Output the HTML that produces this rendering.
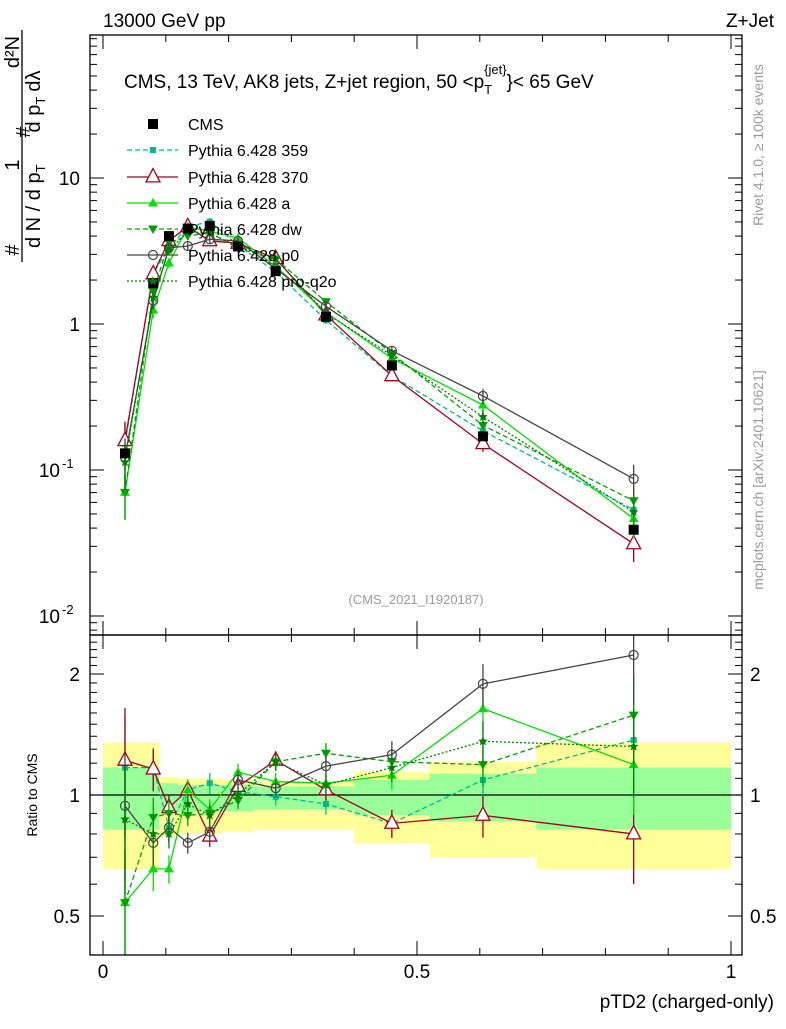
<!DOCTYPE html>
<html><head><meta charset="utf-8"><style>
body{margin:0;background:#fff;}
svg text{font-family:"Liberation Sans",sans-serif;}
</style></head><body>
<svg id="c" width="786" height="1024" viewBox="0 0 786 1024" xmlns="http://www.w3.org/2000/svg"></svg>
<script>
const xCenters=[0.035,0.08,0.105,0.135,0.17,0.215,0.275,0.355,0.46,0.605,0.845];
const binEdges=[0,0.07,0.09,0.12,0.15,0.19,0.24,0.31,0.40,0.52,0.69,1.0];
const cmsValues=[0.13,1.9,4.0,4.5,4.7,3.4,2.3,1.12,0.52,0.17,0.039];
const yellowUp=[1.35,1.35,1.11,1.10,1.10,1.09,1.08,1.08,1.14,1.21,1.35];
const yellowDn=[0.655,0.655,0.79,0.80,0.80,0.81,0.82,0.82,0.76,0.70,0.655];
const greenUp=[1.17,1.17,1.07,1.06,1.06,1.06,1.05,1.05,1.09,1.13,1.17];
const greenDn=[0.82,0.82,0.91,0.91,0.91,0.91,0.92,0.92,0.89,0.86,0.82];
const r359=[1.17,1.17,0.83,1.03,1.07,1.02,0.99,0.95,0.85,1.09,1.37];
const r370=[1.22,1.16,0.93,1.03,0.79,1.05,1.22,1.03,0.85,0.89,0.80];
const rA=[0.54,0.655,0.655,1.03,0.92,1.14,1.08,1.07,1.12,1.64,1.19];
const rDw=[0.54,0.88,0.90,0.89,0.90,0.97,1.21,1.27,1.21,1.19,1.58];
const rP0=[0.94,0.76,0.83,0.76,0.81,1.09,1.04,1.18,1.26,1.89,2.23];
const rQ2o=[0.87,0.80,0.80,0.95,0.89,1.0,1.21,1.06,1.17,1.36,1.32];
const mcErr=[0.35,0.12,0.08,0.06,0.06,0.05,0.05,0.06,0.08,0.12,0.25];
const xTicks=[0,0.5,1];
const xTickLabels=["0","0.5","1"];

const NS="http://www.w3.org/2000/svg";
const svg=document.getElementById('c');
function el(t,a,parent){const e=document.createElementNS(NS,t);for(const k in a)e.setAttribute(k,a[k]);(parent||svg).appendChild(e);return e;}
const L=90,R=742,T=35,MB=635,RB=955;
const X=v=>103+628*v;
const Y=v=>324-146*Math.log10(v);
const YR=v=>795-121*Math.log2(v);

for(let i=0;i<xCenters.length;i++){
  const x0=X(binEdges[i]),x1=X(binEdges[i+1]);
  let b=el('rect',{x:x0,y:YR(yellowUp[i]),width:x1-x0,height:YR(yellowDn[i])-YR(yellowUp[i]),fill:'#ffff99'});
  
  
  b=el('rect',{x:x0,y:YR(greenUp[i]),width:x1-x0,height:YR(greenDn[i])-YR(greenUp[i]),fill:'#99ff99'});
  
  
}
el('line',{x1:L,x2:R,y1:YR(1),y2:YR(1),stroke:'#000','stroke-width':1.3});

function marker(g,type,x,y,col,s){
  if(type==='sq') el('rect',{x:x-s,y:y-s,width:2*s,height:2*s,fill:col},g);
  else if(type==='tri'){el('polygon',{points:`${x},${y-s*1.2} ${x-s},${y+s*0.7} ${x+s},${y+s*0.7}`,fill:'#fff',stroke:col,'stroke-width':1.3},g);}
  else if(type==='ftri'){el('polygon',{points:`${x},${y-s} ${x-s},${y+s*0.7} ${x+s},${y+s*0.7}`,fill:col},g);}
  else if(type==='dtri'){el('polygon',{points:`${x},${y+s} ${x-s},${y-s*0.7} ${x+s},${y-s*0.7}`,fill:col},g);}
  else if(type==='circ'){el('circle',{cx:x,cy:y,r:s,fill:'none',stroke:col,'stroke-width':1.2},g);}
  else if(type==='star'){let p=[];for(let k=0;k<10;k++){const a=-Math.PI/2+k*Math.PI/5,r=k%2?s*0.45:s;p.push((x+r*Math.cos(a)).toFixed(1)+','+(y+r*Math.sin(a)).toFixed(1));}el('polygon',{points:p.join(' '),fill:col},g);}
}
const series=[
 {name:'pythia-359',r:r359,col:'#00bb88',dash:'5,3',m:'sq',s:3},
 {name:'pythia-370',r:r370,col:'#a00020',dash:'',m:'tri',s:7},
 {name:'pythia-a',r:rA,col:'#00e000',dash:'',m:'ftri',s:5},
 {name:'pythia-dw',r:rDw,col:'#00a000',dash:'5,3',m:'dtri',s:5},
 {name:'pythia-p0',r:rP0,col:'#444444',dash:'',m:'circ',s:4.5},
 {name:'pythia-pro-q2o',r:rQ2o,col:'#008000',dash:'2,2',m:'star',s:5},
];
function clipMain(v){return Math.min(Math.max(v,T),MB);}
function clipR(v){return Math.min(Math.max(v,MB),RB);}
series.forEach(S=>{
  const gm=el('g',{});
  
  
  const gr=el('g',{});
  
  
  const pm=xCenters.map((x,i)=>X(x)+','+Y(cmsValues[i]*S.r[i])).join(' ');
  const pr=xCenters.map((x,i)=>X(x)+','+YR(S.r[i])).join(' ');
  el('polyline',{points:pm,fill:'none',stroke:S.col,'stroke-width':1.3,'stroke-dasharray':S.dash},gm);
  el('polyline',{points:pr,fill:'none',stroke:S.col,'stroke-width':1.3,'stroke-dasharray':S.dash},gr);
  xCenters.forEach((x,i)=>{
    const v=cmsValues[i]*S.r[i],e=mcErr[i];
    el('line',{x1:X(x),x2:X(x),y1:clipMain(Y(v*(1+e))),y2:clipMain(Y(Math.max(v*(1-e),1e-3))),stroke:S.col,'stroke-width':1.3},gm);
    el('line',{x1:X(x),x2:X(x),y1:clipR(YR(S.r[i]*(1+e))),y2:clipR(YR(Math.max(S.r[i]*(1-e),0.3))),stroke:S.col,'stroke-width':1.3},gr);
    marker(gm,S.m,X(x),Y(v),S.col,S.s);
    marker(gr,S.m,X(x),YR(S.r[i]),S.col,S.s);
  });
});
const gc=el('g',{});


xCenters.forEach((x,i)=>{marker(gc,'sq',X(x),Y(cmsValues[i]),'#000',5);});

el('rect',{x:L,y:T,width:R-L,height:MB-T,fill:'none',stroke:'#000','stroke-width':1.3});
el('rect',{x:L,y:MB,width:R-L,height:RB-MB,fill:'none',stroke:'#000','stroke-width':1.3});
for(let k=0;k<=10;k++){const v=k/10,x=X(v),len=(k%5===0)?14:7;
  el('line',{x1:x,x2:x,y1:RB,y2:RB-len,stroke:'#000'});
  el('line',{x1:x,x2:x,y1:MB,y2:MB-len,stroke:'#000'});
  el('line',{x1:x,x2:x,y1:T,y2:T+len,stroke:'#000'});el('line',{x1:x,x2:x,y1:MB,y2:MB+len,stroke:'#000'});}
xTicks.forEach((v,i)=>{const t=el('text',{x:X(v),y:978,'font-size':19,'text-anchor':'middle'});t.textContent=xTickLabels[i];
  
  });
for(let d=-3;d<=1;d++){for(let m=1;m<10;m++){const v=m*Math.pow(10,d);const y=Y(v);if(y<T||y>MB)continue;const len=m===1?14:7;
  el('line',{x1:L,x2:L+len,y1:y,y2:y,stroke:'#000'});el('line',{x1:R,x2:R-len,y1:y,y2:y,stroke:'#000'});}}
[['10',10],['1',1]].forEach(([s,v])=>{const t=el('text',{x:80,y:Y(v)+7,'font-size':19,'text-anchor':'end'});t.textContent=s;
  
  });
[['-1',0.1],['-2',0.01]].forEach(([s,v])=>{const t=el('text',{x:60,y:Y(v)+7,'font-size':19,'text-anchor':'end'});t.textContent='10';
  
  
  const e=el('text',{x:62,y:Y(v)-2,'font-size':13});e.textContent=s;});
for(let v=0.4;v<=2.5;v+=0.1){const y=YR(v);if(y<MB||y>RB)continue;const maj=[0.5,1,2].some(q=>Math.abs(q-v)<1e-6);const len=maj?14:7;
  el('line',{x1:L,x2:L+len,y1:y,y2:y,stroke:'#000'});el('line',{x1:R,x2:R-len,y1:y,y2:y,stroke:'#000'});}
[['2',2],['1',1],['0.5',0.5]].forEach(([s,v])=>{
  let t=el('text',{x:80,y:YR(v)+7,'font-size':19,'text-anchor':'end'});t.textContent=s;
  
  
  t=el('text',{x:750,y:YR(v)+7,'font-size':19,'text-anchor':'start'});t.textContent=s;
  
  });

const legY=[124,150,177,203,229,255,281];
const lg=el('g',{});


marker(lg,'sq',153,legY[0],'#000',5);
let tt=el('text',{x:188,y:legY[0]+6,'font-size':16},lg);tt.textContent='CMS';
const names=['Pythia 6.428 359','Pythia 6.428 370','Pythia 6.428 a','Pythia 6.428 dw','Pythia 6.428 p0','Pythia 6.428 pro-q2o'];
series.forEach((S,i)=>{const y=legY[i+1];
  el('line',{x1:127,x2:178,y1:y,y2:y,stroke:S.col,'stroke-width':1.3,'stroke-dasharray':S.dash},lg);
  marker(lg,S.m,153,y,S.col,S.s);
  const t=el('text',{x:188,y:y+6,'font-size':16},lg);t.textContent=names[i];
  
  });

function txt(x,y,s,a,name){const t=el('text',Object.assign({x:x,y:y},a));t.textContent=s;return t;}
txt(103,27,'13000 GeV pp',{'font-size':19},'energy-label');
txt(774,27,'Z+Jet',{'font-size':19,'text-anchor':'end'},'process-label');
const ann=txt(124,88,'CMS, 13 TeV, AK8 jets, Z+jet region, 50 <p',{'font-size':19},'plot-annotation');
const a2=el('tspan',{dy:6,'font-size':13});a2.textContent='T';ann.appendChild(a2);
const a3=el('tspan',{dy:-20,dx:-8,'font-size':13});a3.textContent='{jet}';ann.appendChild(a3);
const a4=el('tspan',{dy:14,'font-size':19});a4.textContent='}< 65 GeV';ann.appendChild(a4);
txt(416,604,'(CMS_2021_I1920187)',{'font-size':13,'text-anchor':'middle',fill:'#999'},'analysis-id');
txt(774,1008,'pTD2 (charged-only)',{'font-size':19,'text-anchor':'end'},'x-axis-title');
txt(0,0,'Ratio to CMS',{'font-size':14,'text-anchor':'middle',transform:'translate(37,795) rotate(-90)'},'ratio-axis-title');
txt(0,0,'Rivet 4.1.0, ≥ 100k events',{'font-size':14,'text-anchor':'middle',fill:'#999',transform:'translate(763,145) rotate(-90)'},'rivet-label');
txt(0,0,'mcplots.cern.ch [arXiv:2401.10621]',{'font-size':14,'text-anchor':'middle',fill:'#999',transform:'translate(763,480) rotate(-90)'},'mcplots-label');

const yt=el('g',{});


el('line',{x1:22,x2:22,y1:30,y2:262,stroke:'#000','stroke-width':1.3},yt);
function rt(x,y,s,fs,anchor){const t=el('text',{'font-size':fs,'text-anchor':anchor||'middle',transform:`translate(${x},${y}) rotate(-90)`},yt);t.textContent=s;return t;}
rt(19,250,'#',20);
rt(19,165,'1',20);
rt(30,132,'#',20);
rt(19,52,'d²N',20);
const den=el('text',{'font-size':20,'text-anchor':'start',transform:'translate(40,248) rotate(-90)'},yt);
den.textContent='d N / d p';
let sp=el('tspan',{dy:5,'font-size':13},den);sp.textContent='T';
sp=el('tspan',{dy:-5,dx:32,'font-size':20},den);sp.textContent='d p';
sp=el('tspan',{dy:5,'font-size':13},den);sp.textContent='T';
sp=el('tspan',{dy:-5,dx:5,'font-size':20},den);sp.textContent='dλ';
</script>
</body></html>
